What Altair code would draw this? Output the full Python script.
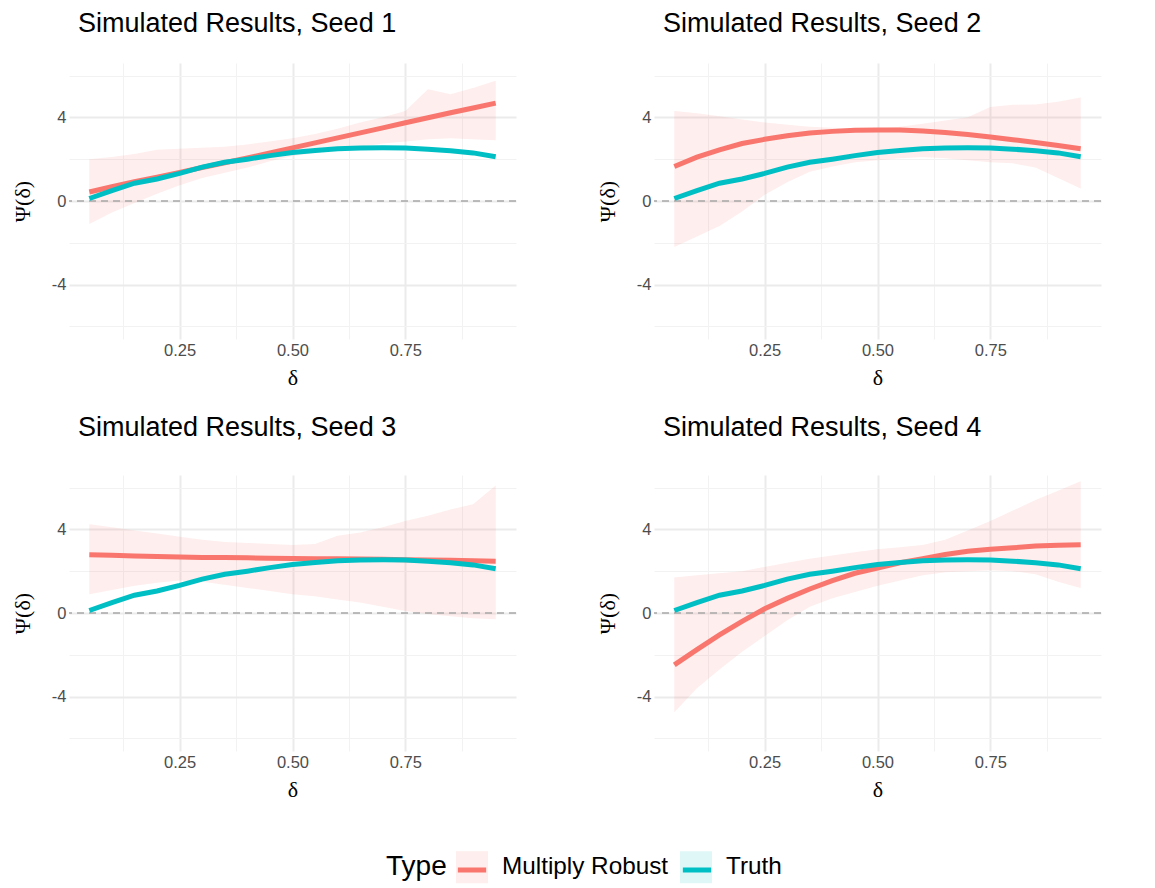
import altair as alt
import pandas as pd

# ---------------- data ----------------
delta = [0.05, 0.10, 0.15, 0.20, 0.25, 0.30, 0.35, 0.40, 0.45, 0.50,
         0.55, 0.60, 0.65, 0.70, 0.75, 0.80, 0.85, 0.90, 0.95]

truth = [0.12, 0.50, 0.85, 1.05, 1.32, 1.62, 1.85, 2.00, 2.17, 2.32,
         2.42, 2.50, 2.54, 2.55, 2.54, 2.48, 2.40, 2.30, 2.12]

mr_seed1 = [0.43, 0.68, 0.92, 1.14, 1.37, 1.60, 1.83, 2.06, 2.30, 2.54,
            2.78, 3.02, 3.26, 3.50, 3.74, 3.98, 4.22, 4.45, 4.68]
lo_seed1 = [-1.10, -0.55, -0.10, 0.35, 0.75, 1.10, 1.35, 1.60, 1.90, 2.15,
            2.30, 2.45, 2.60, 2.75, 2.85, 2.95, 3.00, 2.95, 2.90]
hi_seed1 = [2.00, 2.10, 2.25, 2.45, 2.50, 2.55, 2.60, 2.70, 2.85, 3.00,
            3.20, 3.45, 3.75, 4.00, 4.30, 5.35, 5.10, 5.40, 5.75]

mr_seed2 = [1.65, 2.10, 2.45, 2.75, 2.95, 3.12, 3.25, 3.33, 3.38, 3.40,
            3.40, 3.35, 3.28, 3.18, 3.06, 2.93, 2.80, 2.65, 2.50]
lo_seed2 = [-2.20, -1.70, -1.20, -0.50, 0.30, 0.90, 1.40, 1.65, 1.85, 1.95,
            2.05, 2.10, 2.05, 1.95, 1.85, 1.80, 1.60, 1.10, 0.60]
hi_seed2 = [4.30, 4.20, 4.05, 3.90, 3.75, 3.65, 3.55, 3.50, 3.45, 3.45,
            3.55, 3.70, 3.85, 4.00, 4.50, 4.60, 4.62, 4.75, 4.95]

mr_seed3 = [2.78, 2.76, 2.73, 2.70, 2.68, 2.66, 2.65, 2.64, 2.62, 2.61,
            2.60, 2.59, 2.58, 2.57, 2.55, 2.54, 2.52, 2.50, 2.48]
lo_seed3 = [0.90, 1.10, 1.30, 1.45, 1.55, 1.50, 1.35, 1.20, 1.05, 0.90,
            0.80, 0.65, 0.50, 0.30, 0.10, -0.05, -0.15, -0.25, -0.30]
hi_seed3 = [4.25, 4.10, 3.95, 3.80, 3.65, 3.50, 3.40, 3.35, 3.30, 3.25,
            3.30, 3.70, 3.85, 4.10, 4.40, 4.65, 4.95, 5.20, 6.10]

mr_seed4 = [-2.48, -1.75, -1.05, -0.40, 0.20, 0.70, 1.15, 1.55, 1.90, 2.15,
            2.40, 2.60, 2.80, 2.95, 3.05, 3.12, 3.20, 3.24, 3.26]
lo_seed4 = [-4.75, -3.60, -2.70, -1.85, -1.10, -0.35, 0.30, 0.70, 1.00, 1.30,
            1.55, 1.80, 1.95, 2.00, 2.05, 2.00, 1.85, 1.50, 1.20]
hi_seed4 = [1.70, 1.80, 1.90, 2.00, 2.20, 2.40, 2.60, 2.75, 2.90, 3.05,
            3.15, 3.25, 3.50, 3.95, 4.40, 4.90, 5.40, 5.85, 6.30]

seeds = [1, 2, 3, 4]
type_names = ["Multiply Robust", "Truth"]
type_colors = ["#F8766D", "#00BFC4"]
x_breaks = [0.125, 0.25, 0.375, 0.5, 0.625, 0.75, 0.875]
y_breaks = [-6, -4, -2, 0, 2, 4, 6]

series = {
    1: (mr_seed1, lo_seed1, hi_seed1),
    2: (mr_seed2, lo_seed2, hi_seed2),
    3: (mr_seed3, lo_seed3, hi_seed3),
    4: (mr_seed4, lo_seed4, hi_seed4),
}

PW, PH = 447, 276
x_major = "abs(datum.value*4 - round(datum.value*4)) < 0.01"
y_major = "datum.value % 4 == 0"
LY = 790


def panel(seed, title_offset):
    mr, lo, hi = series[seed]
    n = len(delta)
    band = pd.DataFrame({
        "delta": delta + delta,
        "lo": lo + truth,
        "hi": hi + truth,
        "Band": [type_names[0]] * n + [type_names[1]] * n,
    })
    lines = pd.DataFrame({
        "delta": delta + delta,
        "value": mr + truth,
        "Type": [type_names[0]] * n + [type_names[1]] * n,
    })
    zero = pd.DataFrame({"z": [0]})

    xs = alt.Scale(domain=[0.005, 0.995], nice=False, zero=False)
    ys = alt.Scale(domain=[-6.6, 6.6], nice=False, zero=False)
    xaxis = alt.Axis(
        values=x_breaks, title="δ",
        labelExpr=f"{x_major} ? format(datum.value, '.2f') : ''",
        gridWidth={"condition": {"test": x_major, "value": 2}, "value": 1},
        gridColor={"condition": {"test": x_major, "value": "#EBEBEB"}, "value": "#F2F2F2"},
    )
    yaxis = alt.Axis(
        values=y_breaks, title="Ψ(δ)",
        labelExpr=f"{y_major} ? toString(datum.value) : ''",
        gridWidth={"condition": {"test": y_major, "value": 2}, "value": 1},
        gridColor={"condition": {"test": y_major, "value": "#EBEBEB"}, "value": "#F2F2F2"},
    )

    # ribbon layer: its legend carries the title, the labels and the pale key squares
    area = alt.Chart(band).mark_area(opacity=0.12).encode(
        x=alt.X("delta:Q", scale=xs, axis=xaxis),
        y=alt.Y("lo:Q", scale=ys, axis=yaxis),
        y2="hi:Q",
        fill=alt.Fill(
            "Band:N",
            scale=alt.Scale(range=type_colors),
            legend=alt.Legend(
                title="Type", orient="none", direction="horizontal",
                legendX=317, legendY=LY - 1.85, titleOrient="left",
                titlePadding=9, titleFontSize=28, titleFontWeight="normal",
                titleFont="Liberation Sans", titleColor="black",
                labelFontSize=24.3, labelFont="Liberation Sans",
                labelColor="black", labelLimit=400, symbolType="square",
                symbolSize=1024, symbolStrokeWidth=0, labelOffset=14,
                columnPadding=11,
            ),
        ),
    )
    rule = alt.Chart(zero).mark_rule(
        color="#A8A8A8", strokeWidth=1.5, strokeDash=[7, 5]
    ).encode(y=alt.Y("z:Q", scale=ys))
    # line layer: its legend only draws the coloured key strokes
    line = alt.Chart(lines).mark_line(strokeWidth=5).encode(
        x=alt.X("delta:Q", scale=xs),
        y=alt.Y("value:Q", scale=ys),
        color=alt.Color(
            "Type:N",
            scale=alt.Scale(domain=type_names, range=type_colors),
            legend=alt.Legend(
                title=None, orient="none", direction="horizontal",
                legendX=386, legendY=LY, labelExpr="''", labelOffset=0,
                labelFontSize=1, symbolType="stroke", symbolStrokeWidth=5,
                symbolSize=800, columnPadding=175,
            ),
        ),
    )
    return alt.layer(area, rule, line).properties(
        width=PW, height=PH,
        title=alt.TitleParams(
            f"Simulated Results, Seed {seed}", anchor="start", frame="group",
            dx=9, offset=title_offset, fontSize=27, font="Liberation Sans",
            fontWeight="normal", color="black",
        ),
    )


row1 = alt.hconcat(panel(1, 25), panel(2, 25), spacing=79)
row2 = alt.hconcat(panel(3, 33), panel(4, 33), spacing=79)
chart = alt.vconcat(row1, row2, spacing=25).properties(
    padding={"left": 3, "top": 2, "right": 5, "bottom": 5}
).configure_view(stroke=None).configure_axis(
    domain=False, ticks=False, labelFont="Liberation Sans", labelFontSize=16.5,
    labelColor="#4D4D4D", labelPadding=3, titleFont="Liberation Serif",
    titleFontSize=22, titleFontWeight="normal", titleColor="black",
).configure_axisX(titlePadding=9).configure_axisY(titlePadding=17).resolve_scale(
    color="shared", fill="shared"
)

chart.save("out.html", embed_options={"renderer": "svg", "actions": False})
